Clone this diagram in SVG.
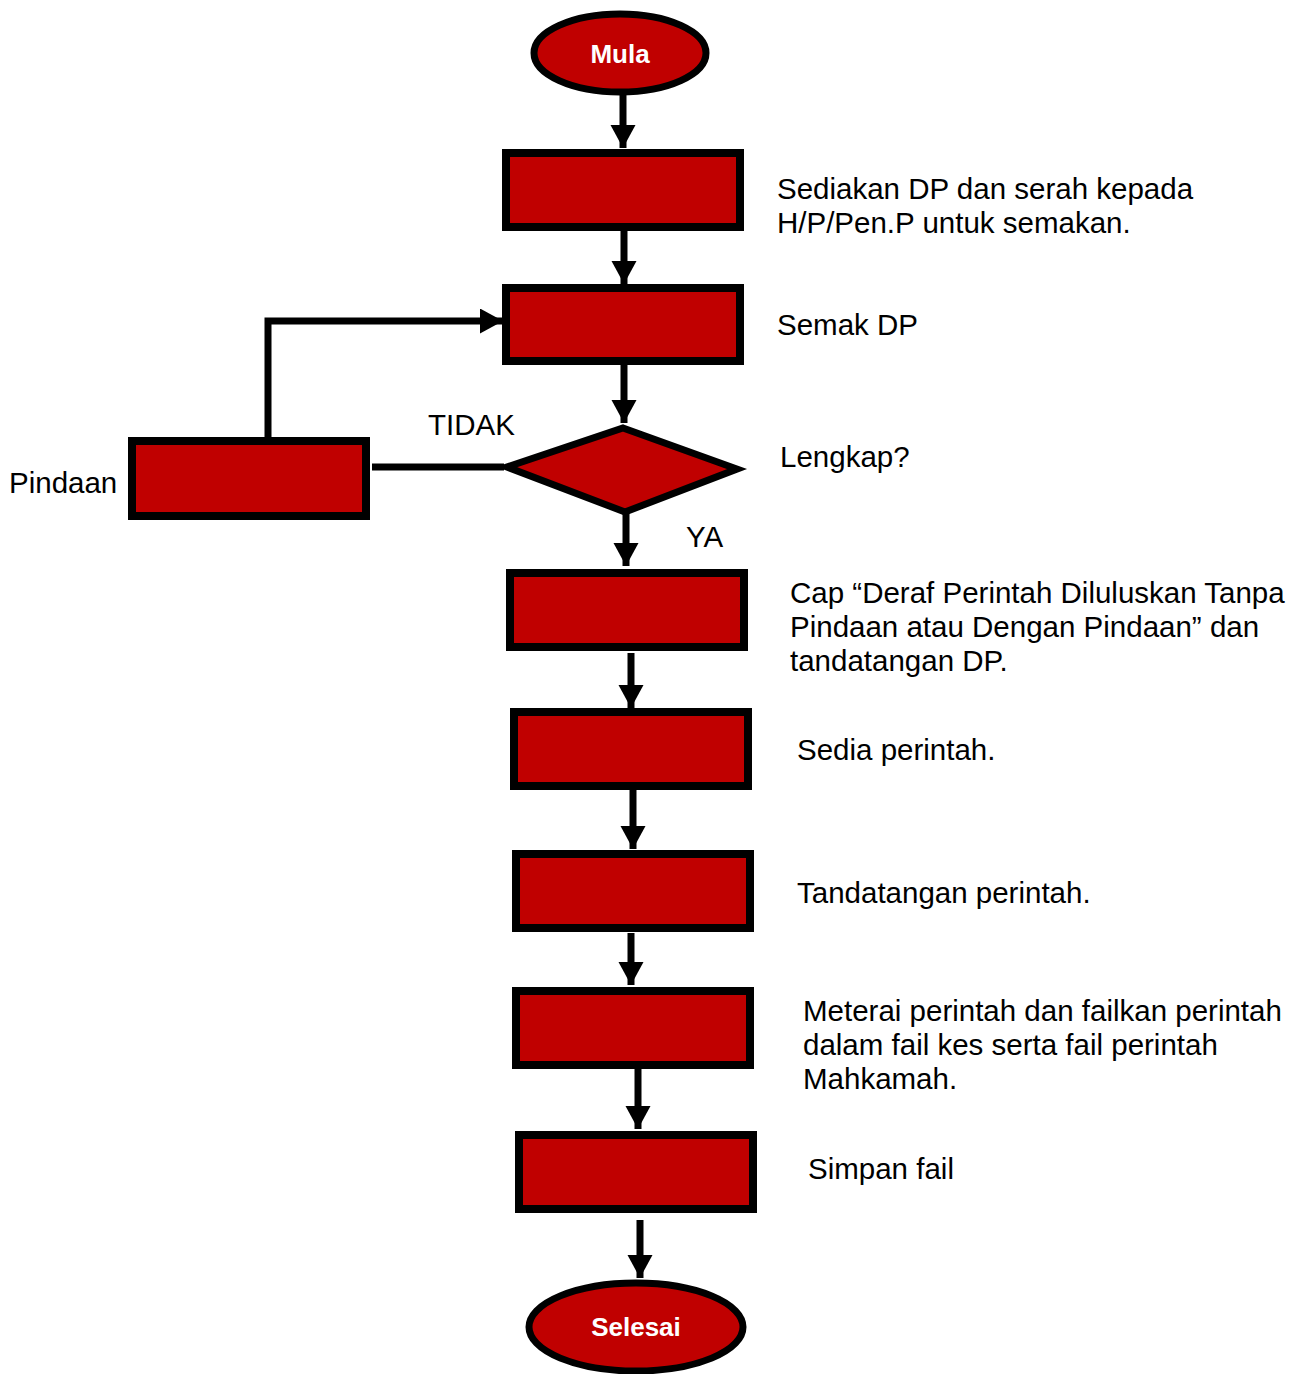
<svg xmlns="http://www.w3.org/2000/svg" width="1303" height="1374" viewBox="0 0 1303 1374">
<defs>
<marker id="ah" markerUnits="userSpaceOnUse" markerWidth="26" markerHeight="26" refX="23" refY="12.5" orient="auto">
<path d="M0,0 L23,12.5 L0,25 Z" fill="#000"/>
</marker>
<style>
.box{fill:#c00000;stroke:#000;stroke-width:8}
.term{fill:#c00000;stroke:#000;stroke-width:7}
.tt{font-family:"Liberation Sans",Arial,sans-serif;font-size:26px;font-weight:bold;fill:#fff;text-anchor:middle}
.lb{font-family:"Liberation Sans",Arial,sans-serif;font-size:29.5px;fill:#000}
.cn{fill:none;stroke:#000;stroke-width:7}
</style>
</defs>
<rect width="1303" height="1374" fill="#fff"/>
<g id="connectors">
<line class="cn" x1="623" y1="94" x2="623" y2="148" marker-end="url(#ah)"/>
<line class="cn" x1="624" y1="231" x2="624" y2="284" marker-end="url(#ah)"/>
<line class="cn" x1="624" y1="365" x2="624" y2="423" marker-end="url(#ah)"/>
<line class="cn" x1="504" y1="467" x2="372" y2="467"/>
<polyline class="cn" points="268,437 268,321 503,321" marker-end="url(#ah)"/>
<line class="cn" x1="626" y1="512" x2="626" y2="566" marker-end="url(#ah)"/>
<line class="cn" x1="631" y1="653" x2="631" y2="708" marker-end="url(#ah)"/>
<line class="cn" x1="633" y1="790" x2="633" y2="849" marker-end="url(#ah)"/>
<line class="cn" x1="631" y1="933" x2="631" y2="985" marker-end="url(#ah)"/>
<line class="cn" x1="638" y1="1069" x2="638" y2="1129" marker-end="url(#ah)"/>
<line class="cn" x1="640" y1="1220" x2="640" y2="1278" marker-end="url(#ah)"/>
</g>
<g id="mula"><ellipse class="term" cx="620" cy="53" rx="86" ry="39"/><text class="tt" x="620" y="63">Mula</text></g>
<g id="n1"><rect class="box" x="506" y="153" width="234" height="74"/><text class="lb" x="777" y="199">Sediakan DP dan serah kepada</text><text class="lb" x="777" y="233">H/P/Pen.P untuk semakan.</text></g>
<g id="n2"><rect class="box" x="506" y="288" width="234" height="73"/><text class="lb" x="777" y="335">Semak DP</text></g>
<g id="d1"><polygon class="term" points="623,428 737,469 625,512 507,467"/><text class="lb" x="780" y="467">Lengkap?</text><text class="lb" x="428" y="435">TIDAK</text><text class="lb" x="686" y="547">YA</text></g>
<g id="pindaan"><rect class="box" x="132" y="441" width="234" height="75"/><text class="lb" x="9" y="493">Pindaan</text></g>
<g id="n3"><rect class="box" x="510" y="573" width="234" height="74"/><text class="lb" x="790" y="603">Cap “Deraf Perintah Diluluskan Tanpa</text><text class="lb" x="790" y="637">Pindaan atau Dengan Pindaan” dan</text><text class="lb" x="790" y="671">tandatangan DP.</text></g>
<g id="n4"><rect class="box" x="514" y="712" width="234" height="74"/><text class="lb" x="797" y="760">Sedia perintah.</text></g>
<g id="n5"><rect class="box" x="516" y="854" width="234" height="74"/><text class="lb" x="797" y="903">Tandatangan perintah.</text></g>
<g id="n6"><rect class="box" x="516" y="991" width="234" height="74"/><text class="lb" x="803" y="1021">Meterai perintah dan failkan perintah</text><text class="lb" x="803" y="1055">dalam fail kes serta fail perintah</text><text class="lb" x="803" y="1089">Mahkamah.</text></g>
<g id="n7"><rect class="box" x="519" y="1135" width="234" height="74"/><text class="lb" x="808" y="1179">Simpan fail</text></g>
<g id="selesai"><ellipse class="term" cx="636" cy="1327" rx="107" ry="44"/><text class="tt" x="636" y="1336">Selesai</text></g>
</svg>
